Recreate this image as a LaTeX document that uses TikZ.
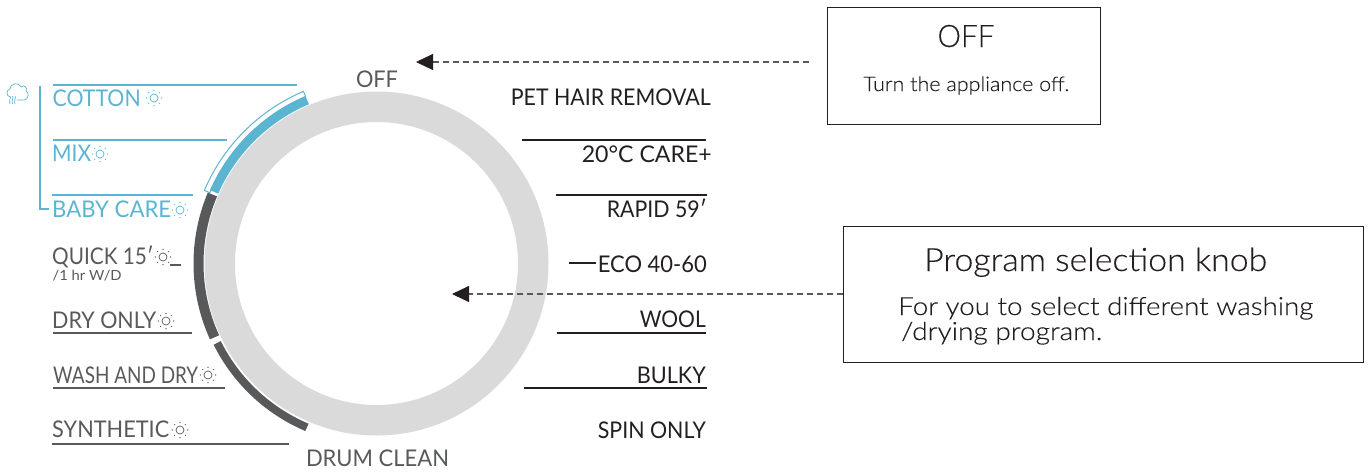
\documentclass[tikz,border=0pt]{standalone}
\usepackage{fontspec}
\setmainfont{Lato}
\newfontfamily\boxfont{Lato Light}[FakeBold=0.25]
\usetikzlibrary{arrows.meta,calc}
\definecolor{lgblue}{HTML}{5BB5D0}
\definecolor{lgdark}{HTML}{58595B}
\definecolor{lgring}{HTML}{DADADA}
\definecolor{lgink}{HTML}{231F20}
\newcommand{\fit}[2]{\resizebox{#1pt}{\height}{#2}}
\tikzset{
  lbl/.style={inner sep=0pt,anchor=base west,font=\fontsize{23}{23}\selectfont},
  lblr/.style={inner sep=0pt,anchor=base east,font=\fontsize{23}{23}\selectfont,text=lgink},
  rulebar/.style={line width=2pt},
  infobox/.style={draw=lgink,line width=1.3pt,fill=white,inner sep=0pt,anchor=north west},
  infotext/.style={inner sep=0pt,anchor=base west,text=lgink},
  pointer/.style={draw=lgdark,line width=1.1pt,dash pattern=on 6pt off 4pt,
    -{Triangle[length=17pt,width=16pt,color=lgink,fill=lgink]}},
  pics/sunicon/.style={code={
    \draw[#1,line width=.7pt] (0,0) circle[radius=4pt];
    \foreach \a in {0,45,...,315}{
      \fill[#1] (\a:7.6pt) circle[radius=.7pt];}
  }}
}
\begin{document}
\begin{tikzpicture}[x=1pt,y=-1pt]
\useasboundingbox (0,0) rectangle (1370,472);
\coordinate (c) at (376.5,263.5);
% ring
\draw[lgring,line width=30.5pt] (c) circle[radius=156.75pt];
% outline wedge and bands
\draw[lgblue,fill=white,line width=1pt,line join=round]
  ($(c)+(113:187pt)$) arc[start angle=113,end angle=157,radius=187pt]
  -- ($(c)+(157:181pt)$) arc[start angle=157,end angle=113,radius=181pt] -- cycle;
\draw[lgblue,line width=9pt] ($(c)+(113:177.5pt)$) arc[start angle=113,end angle=156.2,radius=177.5pt];
\draw[lgdark,line width=10pt] ($(c)+(157.2:178pt)$) arc[start angle=157.2,end angle=204.5,radius=178pt];
\draw[lgdark,line width=8pt] ($(c)+(206.5:178pt)$) arc[start angle=206.5,end angle=247,radius=178pt];
% cloud icon
\draw[lgblue,line width=.7pt,line cap=round,line join=round]
  (10,97) .. controls (6,96) and (6,90) .. (10,89)
  .. controls (10,84) and (18,81) .. (21,87)
  .. controls (24,84) and (28,88) .. (26,91)
  .. controls (30,93) and (28,100) .. (24,100) -- (17,100);
\foreach \x in {10,12.5,15}
  \draw[lgblue,line width=.7pt] (\x,96) .. controls (\x+1.5,98) and (\x-1.5,101) .. (\x,104);
% bracket
\draw[lgblue,line width=1.2pt] (40,86) -- (40,209) -- (49,209);
% left rules
\draw[lgblue,rulebar] (53,85) -- (297,85);
\draw[lgblue,rulebar] (53,140) -- (227,140);
\draw[lgblue,rulebar] (52,195) -- (193,195);
\draw[lgdark,rulebar] (170,265) -- (181,265);
\draw[lgdark,rulebar] (53,333) -- (192,333);
\draw[lgdark,rulebar] (53,388) -- (225,388);
\draw[lgdark,rulebar] (52,444) -- (289,444);
% left labels
\node[lbl,text=lgblue] (cotton) at (52.5,106) {\fit{88}{COTTON}};
\node[lbl,text=lgblue] (mix) at (52,161.5) {\fit{39}{MIX}};
\node[lbl,text=lgblue] (baby) at (52,217) {\fit{119}{BABY CARE}};
\node[lbl,text=lgdark] (quick) at (52,264.5) {\fit{101.5}{QUICK 15′}};
\node[lbl,text=lgdark,font=\fontsize{14}{14}\selectfont] (quicksub) at (52.5,280) {\fit{69}{/1 hr W/D}};
\node[lbl,text=lgdark] (dry) at (52,328.5) {\fit{104}{DRY ONLY}};
\node[lbl,text=lgdark] (washdry) at (53,383) {\fit{145}{WASH AND DRY}};
\node[lbl,text=lgdark] (synth) at (52,437.5) {\fit{117}{SYNTHETIC}};
% suns
\pic at (154,98) {sunicon=lgblue};
\pic at (100,154) {sunicon=lgblue};
\pic at (180,210) {sunicon=lgblue};
\pic at (163,257) {sunicon=lgdark};
\pic at (166,321) {sunicon=lgdark};
\pic at (208,375) {sunicon=lgdark};
\pic at (180,430) {sunicon=lgdark};
% top and bottom labels
\node[lbl,text=lgdark,anchor=base] (off) at (377,87) {\fit{42}{OFF}};
\node[lbl,text=lgdark,anchor=base] (drum) at (377.5,466) {\fit{143}{DRUM CLEAN}};
% right rules
\draw[lgink,rulebar] (522,140) -- (706,140);
\draw[lgink,rulebar] (556,195) -- (707,195);
\draw[lgink,rulebar] (569,263) -- (596,263);
\draw[lgink,rulebar] (557,333) -- (706,333);
\draw[lgink,rulebar] (524,388) -- (707,388);
% right labels
\node[lblr] (pet) at (711,105.5) {\fit{200}{PET HAIR REMOVAL}};
\node[lblr] (care) at (712,162) {\fit{130}{20°C CARE+}};
\node[lblr] (rapid) at (707,217) {\fit{100}{RAPID 59′}};
\node[lblr] (eco) at (707,272) {\fit{109}{ECO 40-60}};
\node[lblr] (wool) at (706,327.5) {\fit{66}{WOOL}};
\node[lblr] (bulky) at (706,383) {\fit{69}{BULKY}};
\node[lblr] (spin) at (706,438.5) {\fit{108}{SPIN ONLY}};
% info boxes
\node[infobox,minimum width=273pt,minimum height=117pt] (offbox) at (827,7) {};
\node[infotext,anchor=base,font=\boxfont\fontsize{31}{31}\selectfont] (offtitle) at (966,47) {\fit{57}{OFF}};
\node[infotext,font=\boxfont\fontsize{20}{20}\selectfont] (offtext) at (863,91) {\fit{206}{Turn the appliance off.}};
\node[infobox,minimum width=520pt,minimum height=136pt] (knobbox) at (843,226) {};
\node[infotext,font=\boxfont\fontsize{32}{32}\selectfont] (knobtitle) at (924,271) {\fit{343}{Program selection knob}};
\node[infotext,font=\boxfont\fontsize{25}{25}\selectfont] (knobl1) at (898,315) {\fit{415}{For you to select different washing}};
\node[infotext,font=\boxfont\fontsize{25}{25}\selectfont] (knobl2) at (901,340) {\fit{201}{/drying program.}};
% pointers
\coordinate (offtip) at (416,62);
\coordinate (knobtip) at (452,294);
\draw[pointer] ([xshift=-18pt]offbox.west |- offtip) -- (offtip);
\draw[pointer] (knobbox.west |- knobtip) -- (knobtip);
\end{tikzpicture}
\end{document}
